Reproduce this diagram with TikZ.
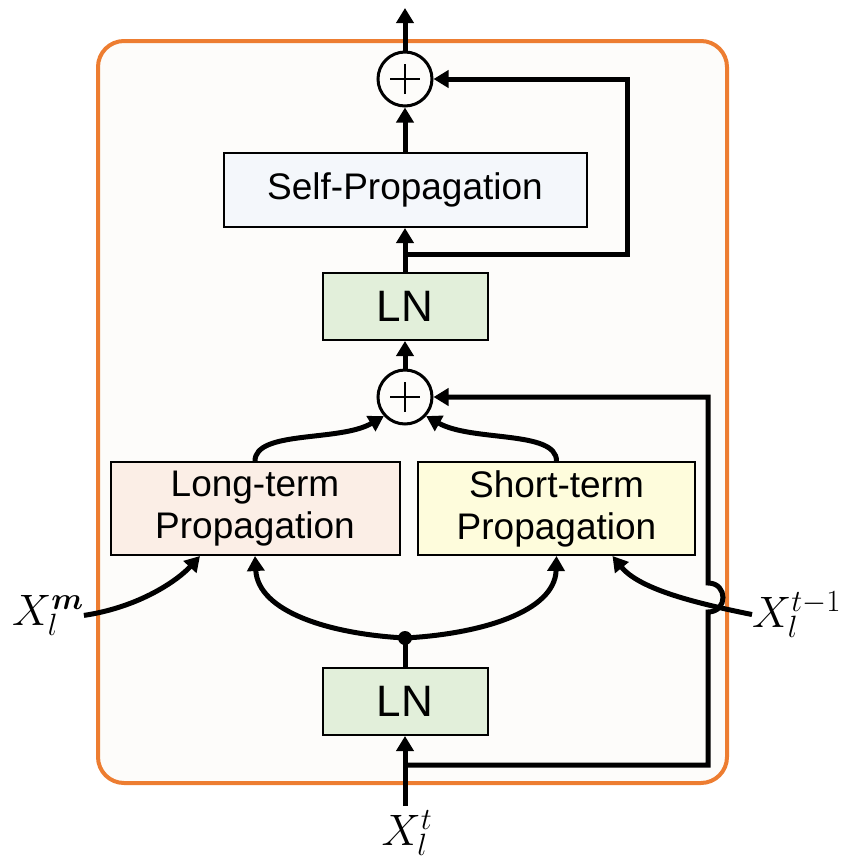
\RequirePackage{fix-cm}
\documentclass[tikz,border=0pt]{standalone}
\usepackage[no-math]{fontspec}
\setmainfont{Liberation Sans}
\usepackage{bm}
\usetikzlibrary{arrows.meta}

\definecolor{frameorange}{HTML}{ED7D31}
\definecolor{framefill}{HTML}{FDFCFA}
\definecolor{selffill}{HTML}{F4F7FB}
\definecolor{lnfill}{HTML}{E2EFDA}
\definecolor{longfill}{HTML}{FBEEE6}
\definecolor{shortfill}{HTML}{FEFCDC}

\begin{document}
\begin{tikzpicture}[x=1pt,y=-1pt,
  box/.style={draw=black,line width=2pt,inner sep=0pt,align=center,
    font=\fontsize{37}{42}\selectfont},
  lnbox/.style={box,fill=lnfill,minimum width=165pt,minimum height=67pt,
    font=\fontsize{44}{44}\selectfont},
  sumnode/.style={circle,draw=black,line width=3pt,minimum size=54pt,inner sep=0pt},
  link/.style={line width=5pt},
  flow/.style={line width=5pt,-{Triangle[length=15pt,width=17pt]}},
  var/.style={inner sep=0pt,font=\fontsize{44}{44}\selectfont}]

\useasboundingbox (0,0) rectangle (853,863);

% block frame
\draw[frameorange,line width=4pt,fill=framefill,rounded corners=26pt]
  (98,41) rectangle (727,783);

% nodes
\node[sumnode] (sumtop) at (405,79) {};
\node[box,fill=selffill,minimum width=363pt,minimum height=74pt] (self) at (405,190) {Self-Propagation};
\node[lnbox] (lntop) at (405,306.5) {LN};
\node[sumnode] (summid) at (405,397) {};
\node[box,fill=longfill,minimum width=289pt,minimum height=93pt] (long) at (255,508.5) {Long-term\\Propagation};
\node[box,fill=shortfill,minimum width=277pt,minimum height=93pt] (short) at (556.5,508.5) {Short-term\\Propagation};
\node[circle,fill=black,inner sep=0pt,minimum size=14pt] (dot) at (405,638) {};
\node[lnbox] (lnbot) at (405,701.5) {LN};

% plus signs
\foreach \s in {sumtop,summid}{
  \draw[line width=2.5pt] ([xshift=-15pt]\s.center) -- ([xshift=15pt]\s.center);
  \draw[line width=2.5pt] ([yshift=-15pt]\s.center) -- ([yshift=15pt]\s.center);
}

% input / output labels
\node[var,anchor=base west] (xm) at (12,625) {$X_l^{\bm m}$};
\node[var,anchor=base west] (xprev) at (752,627) {$X_l^{t-1}$};
\node[var,anchor=base] (xcur) at (407,845) {$X_l^{t}$};

% free ends and corners
\coordinate (out) at (405,8);
\coordinate (xin) at (405,806);
\coordinate (split0) at (405,765);
\coordinate (split1) at (405,254);
\coordinate (rt1) at (627,254);
\coordinate (rt2) at (627,79);
\coordinate (br) at (708,765);
\coordinate (hoplo) at (708,612);
\coordinate (hophi) at (708,583);
\coordinate (rtm) at (708,397);

% main stream
\draw[flow] (xin) -- (lnbot.south);
\draw[link] (lnbot.north) -- (dot.center);
\draw[flow] (dot.center) .. controls (330,634) and (258,612) .. (long.south);
\draw[flow] (dot.center) .. controls (480,634) and (555,612) .. (short.south);
\draw[flow] (long.north) .. controls (255,430) and (340,442) .. (summid.222);
\draw[flow] (short.north) .. controls (556.5,430) and (472,442) .. (summid.318);
\draw[flow] (summid.north) -- (lntop.south);
\draw[flow] (lntop.north) -- (self.south);
\draw[flow] (self.north) -- (sumtop.south);
\draw[flow] (sumtop.north) -- (out);

% residual paths
\draw[flow] (split0) -- (br) -- (hoplo)
  .. controls (728,612) and (728,583) .. (hophi) -- (rtm) -- (summid.east);
\draw[flow] (split1) -- (rt1) -- (rt2) -- (sumtop.east);

% memory inputs
\draw[flow] (xm.east) .. controls (140,607) and (178,580) .. ([xshift=-55pt]long.south);
\draw[flow] (xprev.west) .. controls (700,604) and (640,590) .. ([xshift=56pt]short.south);
\end{tikzpicture}
\end{document}
